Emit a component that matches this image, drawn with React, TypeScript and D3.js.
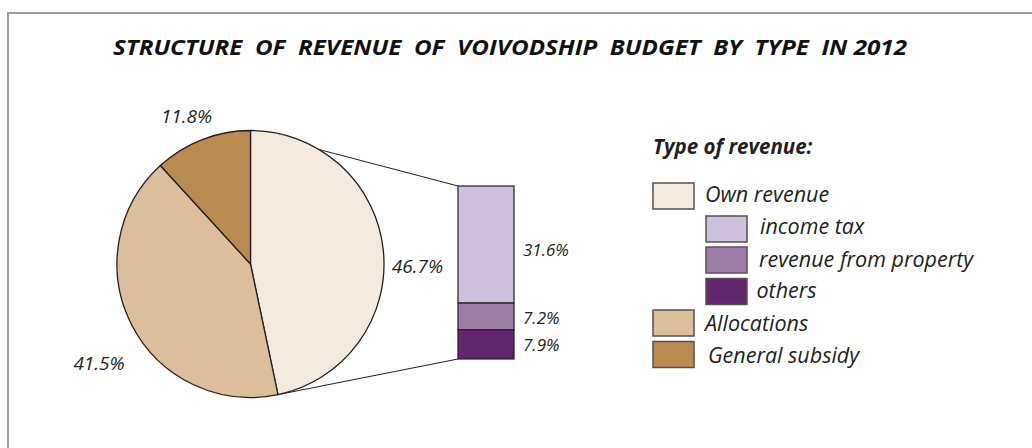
import React from "react";
import * as d3 from "d3";

// ---- data ----
const pieCategories = ["Own revenue", "Allocations", "General subsidy"];
const pieValues = [46.7, 41.5, 11.8];
const pieColors = ["#F4EAE0", "#DCBE9C", "#B98B51"];

const barCategories = ["income tax", "revenue from property", "others"];
const barValues = [31.6, 7.2, 7.9];
const barColors = ["#CEC0DA", "#9E7DA8", "#62266E"];

const titleText = "STRUCTURE  OF  REVENUE  OF  VOIVODSHIP  BUDGET  BY  TYPE  IN 2012";
const legendTitle = "Type of revenue:";

// legend order: [label, color, indented]
const legendItems: [string, string, boolean][] = [
  [pieCategories[0], pieColors[0], false],
  [barCategories[0], barColors[0], true],
  [barCategories[1], barColors[1], true],
  [barCategories[2], barColors[2], true],
  [pieCategories[1], pieColors[1], false],
  [pieCategories[2], pieColors[2], false],
];

const fmt = (v: number) => `${v.toFixed(1)}%`;

// ---- layout ----
const W = 1032;
const H = 448;
const cx = 250.5;
const cy = 264;
const R = 133.5;
const FONT = "'Open Sans', 'Noto Sans', sans-serif";
const TEXT = "#231F20";
const STROKE = "#231F20";

// pie label polar placement (degrees clockwise from top, radius)
const pieLabelPolar: [number, number][] = [
  [90.6, 167],
  [236.8, 181],
  [336.6, 161],
];
const connectorTopAngle = 31; // where the upper connector leaves the pie

const bar = { x: 458, w: 56, top: 186, bottom: 359 };
const barLabelDy = [5, 1, 0];

export default function App() {
  const pie = d3
    .pie<number>()
    .sort(null)
    .value((d) => d)
    .startAngle(0)
    .endAngle(2 * Math.PI);
  const arcs = pie(pieValues);
  const arcGen = d3.arc<d3.PieArcDatum<number>>().innerRadius(0).outerRadius(R);

  const barTotal = d3.sum(barValues);
  const yScale = d3.scaleLinear().domain([0, barTotal]).range([bar.top, bar.bottom]);
  const cum = d3.cumsum(barValues);
  const segs = barValues.map((v, i) => ({
    v,
    y0: yScale(cum[i] - v),
    y1: yScale(cum[i]),
  }));

  const polar = (deg: number, r: number): [number, number] => {
    const a = (deg * Math.PI) / 180;
    return [cx + r * Math.sin(a), cy - r * Math.cos(a)];
  };
  const ownEnd = arcs[0].endAngle;
  const botPt: [number, number] = [cx + R * Math.sin(ownEnd), cy - R * Math.cos(ownEnd)];
  const topPt = polar(connectorTopAngle, R);

  const legendX = 653;
  const legendIndent = 53;
  const legendYs = [183, 216, 247, 278.5, 310, 341.5];
  const legendBaseDy = [19, 18, 20, 19.5, 21, 21];
  const legendTextDx = [11, 13, 12, 9.5, 11, 14];
  const boxW = 41;
  const boxH = 26;

  return (
    <svg
      width={W}
      height={H}
      style={{ position: "absolute", left: 0, top: 0, background: "#fff" }}
      fontFamily={FONT}
    >
      <rect x={0} y={0} width={W} height={H} fill="#fff" />
      <rect x={8} y={13} width={W + 20} height={H + 20} fill="none" stroke="#9E9E9E" strokeWidth={2} />

      <text
        x={113}
        y={55}
        fontSize={21}
        fontWeight={700}
        fontStyle="italic"
        fill="#111"
        textLength={794}
        lengthAdjust="spacingAndGlyphs"
        style={{ whiteSpace: "pre" }}
      >
        {titleText}
      </text>

      {/* connectors */}
      <line x1={topPt[0]} y1={topPt[1]} x2={bar.x} y2={bar.top} stroke={STROKE} strokeWidth={1} />
      <line x1={botPt[0]} y1={botPt[1]} x2={bar.x} y2={bar.bottom} stroke={STROKE} strokeWidth={1} />

      {/* pie */}
      <g transform={`translate(${cx},${cy})`}>
        {arcs.map((a, i) => (
          <path key={i} d={arcGen(a) || ""} fill={pieColors[i]} stroke={STROKE} strokeWidth={1.3} strokeLinejoin="round" />
        ))}
      </g>
      {arcs.map((a, i) => {
        const [lx, ly] = polar(pieLabelPolar[i][0], pieLabelPolar[i][1]);
        return (
          <text
            key={i}
            x={lx}
            y={ly}
            textAnchor="middle"
            dominantBaseline="central"
            fontSize={19}
            fontStyle="italic"
            fill={TEXT}
          >
            {fmt(a.data)}
          </text>
        );
      })}

      {/* bar */}
      {segs.map((s, i) => (
        <rect key={i} x={bar.x} y={s.y0} width={bar.w} height={s.y1 - s.y0} fill={barColors[i]} stroke={STROKE} strokeWidth={1.2} />
      ))}
      {segs.map((s, i) => (
        <text
          key={i}
          x={bar.x + bar.w + 9}
          y={(s.y0 + s.y1) / 2 + barLabelDy[i]}
          dominantBaseline="central"
          fontSize={17}
          fontStyle="italic"
          fill={TEXT}
        >
          {fmt(s.v)}
        </text>
      ))}

      {/* legend */}
      <text x={legendX} y={154} fontSize={20.5} fontWeight={700} fontStyle="italic" fill={TEXT}>
        {legendTitle}
      </text>
      {legendItems.map(([label, color, indent], i) => {
        const bx = legendX + (indent ? legendIndent : 0);
        const y = legendYs[i];
        return (
          <g key={i}>
            <rect x={bx} y={y} width={boxW} height={boxH} fill={color} stroke="#5a5050" strokeWidth={1.5} />
            <text
              x={bx + boxW + legendTextDx[i]}
              y={y + legendBaseDy[i]}
              fontSize={21.5}
              fontStyle="italic"
              fill={TEXT}
            >
              {label}
            </text>
          </g>
        );
      })}
    </svg>
  );
}
